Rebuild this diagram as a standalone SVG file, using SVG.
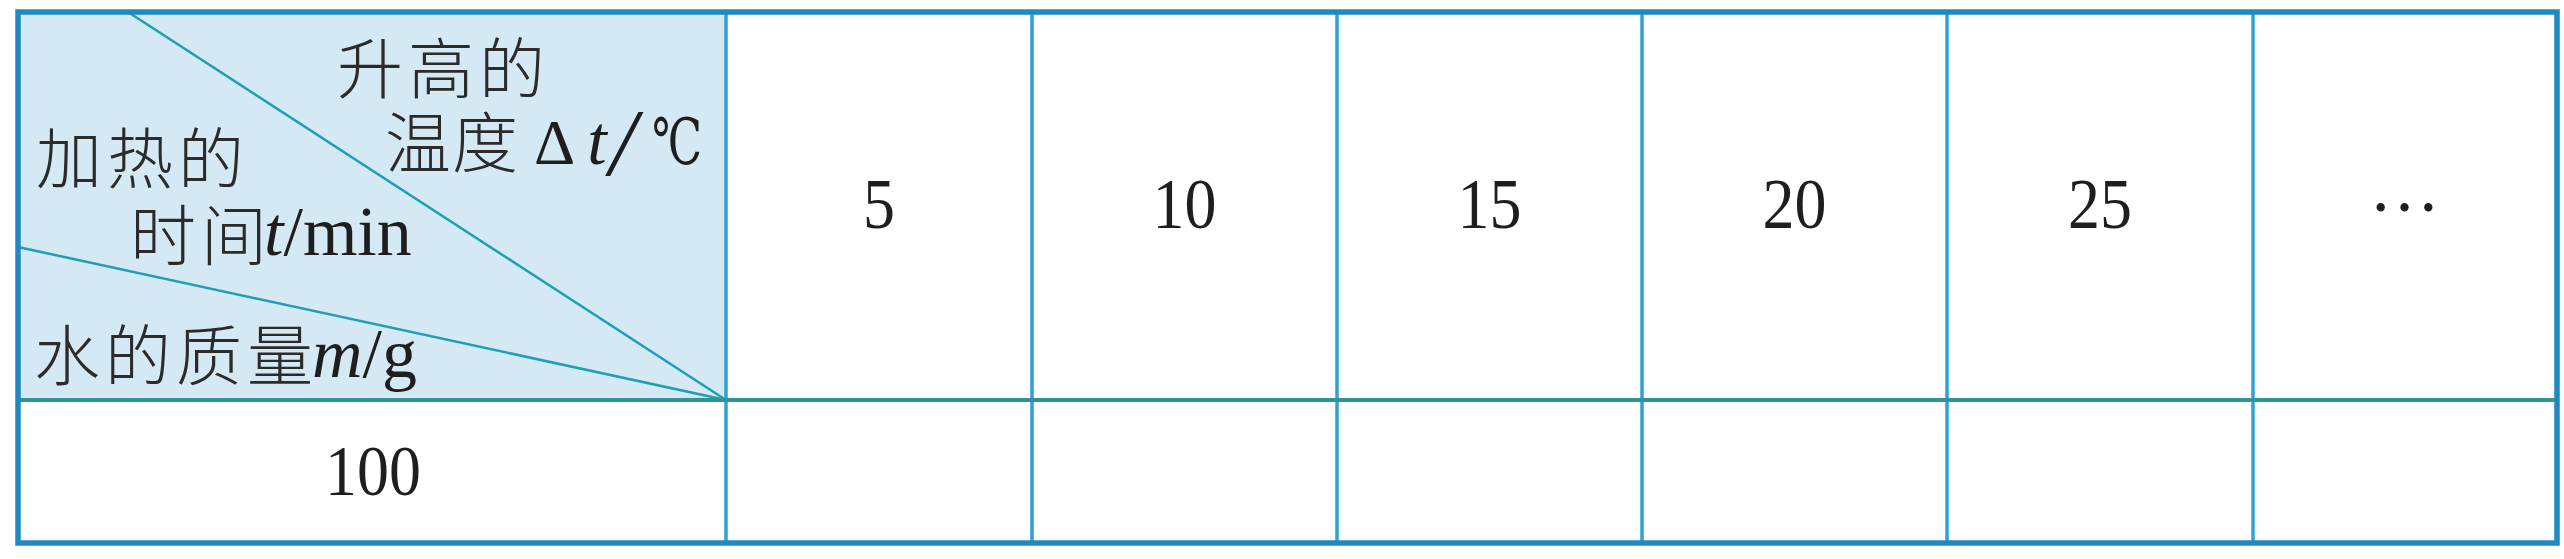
<svg xmlns="http://www.w3.org/2000/svg" width="2564" height="559" viewBox="0 0 2564 559">
<style>
.cjk{font-family:"Noto Sans CJK SC","Noto Sans CJK JP",sans-serif;font-size:66px;letter-spacing:5px;fill:#2b2b2b;font-weight:300}
.lat{font-family:"Liberation Serif","DejaVu Serif",serif;font-size:70px;fill:#1e1e1e;letter-spacing:0;font-weight:400}
.num{font-family:"Liberation Serif",serif;font-size:71px;fill:#1e1e1e;text-anchor:middle}
.it{font-style:italic}
.col{stroke:#2ea2d3;stroke-width:3.5;fill:none}
.diag{stroke:#1d9fb5;stroke-width:2.5;fill:none}
</style>
<rect x="0" y="0" width="2564" height="559" fill="#ffffff"/>
<g id="header-corner">
  <rect x="18" y="12" width="708" height="388" fill="#d5e9f5"/>
</g>
<g id="connectors">
  <line class="diag" x1="128" y1="12" x2="726" y2="400"/>
  <line class="diag" x1="18" y1="247" x2="726" y2="400"/>
  <line class="col" x1="726" y1="12" x2="726" y2="543"/>
  <line class="col" x1="1032" y1="12" x2="1032" y2="543"/>
  <line class="col" x1="1337" y1="12" x2="1337" y2="543"/>
  <line class="col" x1="1642" y1="12" x2="1642" y2="543"/>
  <line class="col" x1="1947" y1="12" x2="1947" y2="543"/>
  <line class="col" x1="2253" y1="12" x2="2253" y2="543"/>
  <line x1="18" y1="400" x2="2557" y2="400" stroke="#2d9593" stroke-width="4"/>
  <rect x="18" y="12" width="2539" height="531" fill="none" stroke="#2189c1" stroke-width="5.5"/>
</g>
<g id="corner-labels">
  <text class="cjk" x="337" y="93">升高的</text>
  <text class="cjk" x="385" y="167" style="letter-spacing:1px">温度<tspan class="lat" style="font-size:64px" dx="15" y="164">Δ</tspan><tspan class="lat it" dx="12">t</tspan><tspan class="lat it" style="font-size:96px" dx="3" y="175">/</tspan></text>
  <text class="lat" style="font-family:'DejaVu Serif','Liberation Serif',serif;font-size:64px" transform="translate(652,164) scale(0.7,1)">℃</text>
  <text class="cjk" x="36" y="183">加热的</text>
  <text class="cjk" x="130" y="260">时间<tspan class="lat" dx="-8" y="255"><tspan class="it">t</tspan>/min</tspan></text>
  <text class="cjk" x="34" y="380">水的质量<tspan class="lat" dx="-6" y="377"><tspan class="it">m</tspan>/g</tspan></text>
</g>
<g id="col-5"><text class="num" transform="translate(879,228) scale(0.9,1)">5</text></g>
<g id="col-10"><text class="num" transform="translate(1184.5,228) scale(0.9,1)">10</text></g>
<g id="col-15"><text class="num" transform="translate(1489.5,228) scale(0.9,1)">15</text></g>
<g id="col-20"><text class="num" transform="translate(1794.5,228) scale(0.9,1)">20</text></g>
<g id="col-25"><text class="num" transform="translate(2100,228) scale(0.9,1)">25</text></g>
<g id="col-more"><text class="num" x="2404.5" y="211">…</text></g>
<g id="row-100"><text class="num" transform="translate(373,495) scale(0.9,1)">100</text></g>
</svg>
